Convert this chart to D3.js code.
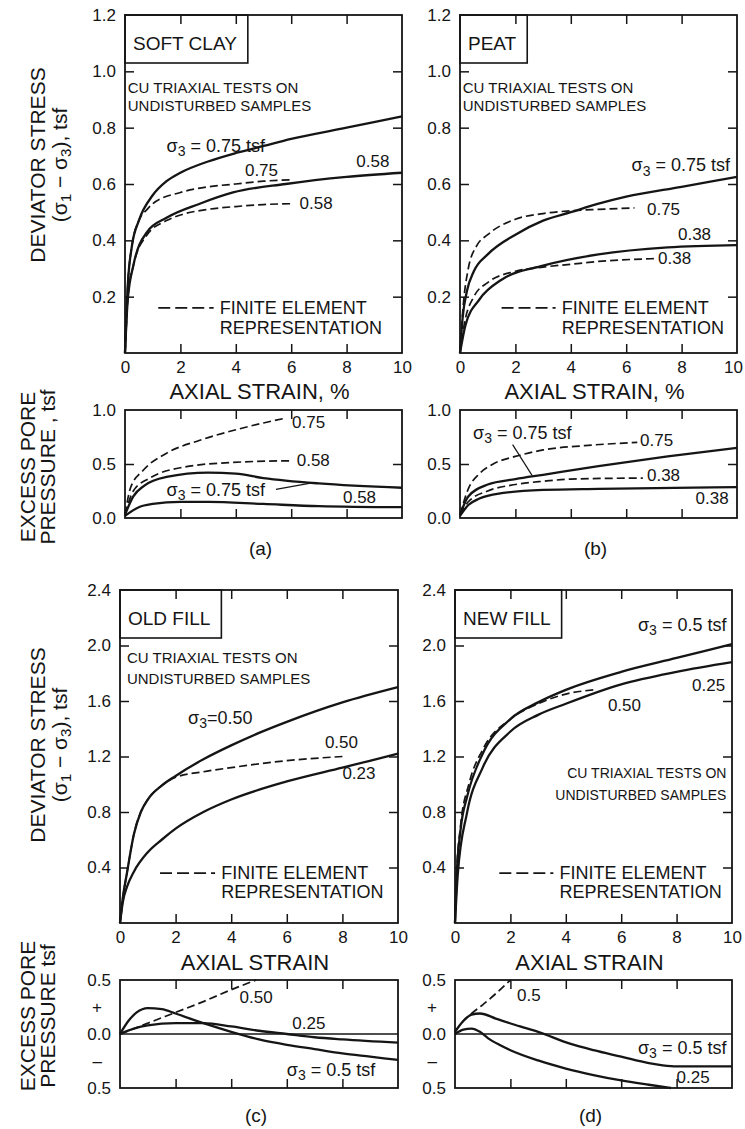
<!DOCTYPE html>
<html>
<head>
<meta charset="utf-8">
<script src="https://cdn.jsdelivr.net/npm/d3@7"></script>
<style>
  body { margin: 0; background: #fff; }
  svg text { font-family: "Liberation Sans", Arial, Helvetica, sans-serif; fill: #151515; }
</style>
</head>
<body>
<svg id="fig" width="745" height="1129"></svg>
<script>
// ---------- data: [axial strain %, value tsf] ----------
const strainDomain = [0, 10];
const strainTicks = [0, 2, 4, 6, 8, 10];
const innerStrainTicks = [2, 4, 6, 8];
const topStressTicks = [0.2, 0.4, 0.6, 0.8, 1.0, 1.2];
const bottomStressTicks = [0.4, 0.8, 1.2, 1.6, 2.0, 2.4];
const topPoreTicks = [0, 0.5, 1.0];
const bottomPoreTicks = [0.5, 0.25, 0, -0.25, -0.5];
const bottomPoreTickText = ["0.5", "+", "0.0", "\u2013", "0.5"];

// (a) soft clay, deviator stress
const clayDevTest075 = [[0,0],[0.1,0.24],[0.25,0.38],[0.5,0.47],[1,0.56],[1.5,0.61],[2,0.64],[3,0.68],[4,0.71],[5,0.735],[6,0.76],[8,0.80],[10,0.84]];
const clayDevTest058 = [[0,0],[0.1,0.19],[0.3,0.31],[0.8,0.43],[1.5,0.48],[2.7,0.53],[3.9,0.57],[5.8,0.60],[8,0.625],[10,0.64]];
const clayDevFE075 = [[0,0],[0.1,0.24],[0.25,0.38],[0.5,0.47],[0.8,0.51],[1,0.53],[2,0.57],[3,0.59],[4,0.60],[5,0.61],[6,0.615]];
const clayDevFE058 = [[0,0],[0.1,0.19],[0.3,0.31],[0.8,0.42],[1.5,0.47],[2,0.49],[3,0.51],[4,0.52],[5,0.527],[6,0.53]];
// (a) soft clay, excess pore pressure
const clayPoreTest075 = [[0,0.03],[0.3,0.2],[0.7,0.3],[1.5,0.38],[3,0.42],[4,0.41],[5,0.37],[7,0.32],[10,0.28]];
const clayPoreTest058 = [[0,0.02],[0.5,0.1],[1,0.13],[2,0.15],[3,0.15],[5,0.13],[7,0.11],[10,0.1]];
const clayPoreFE075 = [[0,0.03],[0.2,0.28],[0.65,0.44],[1.5,0.6],[2.7,0.72],[3.9,0.81],[5,0.88],[5.8,0.925]];
const clayPoreFE058 = [[0,0.03],[0.3,0.25],[0.9,0.37],[2.1,0.47],[3.9,0.515],[6,0.53]];

// (b) peat, deviator stress
const peatDevTest075 = [[0,0],[0.1,0.13],[0.25,0.22],[0.5,0.29],[1,0.35],[2,0.42],[3,0.47],[4,0.50],[5,0.53],[6,0.555],[8,0.59],[10,0.625]];
const peatDevFE075 = [[0,0],[0.1,0.15],[0.3,0.30],[0.6,0.38],[1,0.42],[2,0.475],[3,0.495],[4,0.505],[5,0.51],[6.3,0.515]];
const peatDevTest038 = [[0,0],[0.2,0.1],[0.7,0.19],[1.5,0.26],[3,0.31],[5,0.35],[7.5,0.375],[10,0.383]];
const peatDevFE038 = [[0,0],[0.15,0.1],[0.5,0.2],[1,0.25],[2,0.29],[3,0.305],[4,0.315],[5,0.325],[7,0.335]];
// (b) peat, excess pore pressure
const peatPoreTest075 = [[0,0.03],[0.3,0.2],[1,0.31],[2,0.36],[3,0.40],[5,0.48],[7.5,0.57],[10,0.65]];
const peatPoreFE075 = [[0,0.03],[0.3,0.27],[0.7,0.41],[1.2,0.5],[2,0.57],[3,0.63],[4.5,0.67],[6.4,0.70]];
const peatPoreFE038 = [[0,0.03],[0.3,0.15],[1,0.25],[2,0.31],[3,0.34],[4,0.36],[6.6,0.37]];
const peatPoreTest038 = [[0,0.02],[0.3,0.12],[0.7,0.18],[1.5,0.23],[3,0.26],[5,0.27],[10,0.285]];

// (c) old fill, deviator stress
const oldDevTest050 = [[0,0],[0.1,0.18],[0.25,0.36],[0.5,0.64],[0.75,0.8],[1,0.89],[1.5,0.99],[2,1.06],[3,1.18],[4,1.28],[5,1.37],[6,1.45],[8,1.59],[10,1.70]];
const oldDevFE050 = [[0,0],[0.1,0.18],[0.25,0.36],[0.5,0.64],[0.75,0.8],[1,0.89],[1.5,0.99],[2,1.05],[3,1.09],[4,1.12],[6,1.17],[8,1.20]];
const oldDevTest023 = [[0,0],[0.1,0.15],[0.25,0.26],[0.5,0.37],[1,0.51],[1.5,0.6],[2,0.68],[3,0.8],[4,0.89],[6,1.02],[8,1.12],[10,1.22]];
// (c) old fill, excess pore pressure
const oldPoreTest050 = [[0,0],[0.3,0.12],[0.6,0.2],[1,0.24],[1.5,0.23],[2,0.19],[3,0.1],[4,0.02],[5,-0.05],[6,-0.1],[7,-0.14],[8,-0.18],[9,-0.21],[10,-0.24]];
const oldPoreTest025 = [[0,0],[0.5,0.05],[1,0.08],[2,0.1],[3,0.1],[4,0.07],[5,0.03],[6,0.0],[7,-0.03],[8,-0.05],[10,-0.08]];
const oldPoreFE050 = [[0,0],[1,0.1],[2,0.2],[3,0.3],[4,0.41],[4.9,0.5]];

// (d) new fill, deviator stress
const newDevTest050 = [[0,0],[0.05,0.3],[0.2,0.67],[0.45,0.92],[1,1.22],[2,1.47],[3,1.59],[4,1.68],[6,1.81],[8,1.91],[10,2.01]];
const newDevTest025 = [[0,0],[0.1,0.35],[0.43,0.79],[1,1.12],[2,1.38],[3,1.50],[4,1.58],[6,1.72],[8,1.81],[10,1.88]];
const newDevFE050 = [[0,0],[0.05,0.32],[0.2,0.7],[0.5,1.0],[1,1.25],[2,1.47],[3,1.58],[4,1.65],[5,1.68]];
// (d) new fill, excess pore pressure
const newPoreTest050 = [[0,0.02],[0.3,0.12],[0.6,0.18],[0.9,0.19],[1.5,0.14],[2.35,0.07],[3,0.02],[4.15,-0.09],[5,-0.15],[6,-0.21],[7,-0.27],[7.5,-0.29],[8,-0.30],[10,-0.30]];
const newPoreTest025 = [[0,0],[0.3,0.04],[0.6,0.05],[0.9,0.02],[1.2,-0.04],[1.6,-0.1],[2,-0.15],[3,-0.245],[4,-0.32],[5,-0.38],[6,-0.43],[7,-0.47],[7.8,-0.5]];
const newPoreFE050 = [[0,0.02],[0.3,0.12],[0.6,0.19],[1,0.27],[1.5,0.38],[2,0.5]];

// ---------- drawing ----------
const svg = d3.select("#fig");
const INK = "#151515";
const TICK = 9;
const FS = { tick: 17, label: 17, sigma: 18, note: 15, noteSmall: 14, legend: 18, box: 19, xTitle: 22, yTitle: 21, letter: 19 };

function makePanel(x0, x1, y0, y1, yDomain) {
  const g = svg.append("g");
  const x = d3.scaleLinear().domain(strainDomain).range([x0, x1]);
  const y = d3.scaleLinear().domain(yDomain).range([y1, y0]);
  g.append("rect")
    .attr("x", x0).attr("y", y0).attr("width", x1 - x0).attr("height", y1 - y0)
    .attr("fill", "none").attr("stroke", INK).attr("stroke-width", 1.8);
  return { g, x, y, x0, x1, y0, y1 };
}

function styleAxis(sel, size) {
  sel.select(".domain").remove();
  sel.selectAll("line").attr("stroke", INK).attr("stroke-width", 1.5);
  sel.attr("font-family", null).attr("font-size", size || FS.tick);
  sel.selectAll("text").attr("fill", INK);
}

function innerTicks(p, yVals) {
  p.g.append("g").attr("transform", `translate(0,${p.y0})`)
    .call(d3.axisTop(p.x).tickValues(innerStrainTicks).tickSize(-TICK).tickFormat(""))
    .call(styleAxis);
  p.g.append("g").attr("transform", `translate(0,${p.y1})`)
    .call(d3.axisBottom(p.x).tickValues(innerStrainTicks).tickSize(-TICK).tickFormat(""))
    .call(styleAxis);
  if (yVals) {
    p.g.append("g").attr("transform", `translate(${p.x0},0)`)
      .call(d3.axisLeft(p.y).tickValues(yVals).tickSize(-TICK).tickFormat(""))
      .call(styleAxis);
    p.g.append("g").attr("transform", `translate(${p.x1},0)`)
      .call(d3.axisRight(p.y).tickValues(yVals).tickSize(-TICK).tickFormat(""))
      .call(styleAxis);
  }
}

function yLabels(p, vals, fmt) {
  p.g.append("g").attr("transform", `translate(${p.x0},0)`)
    .call(d3.axisLeft(p.y).tickValues(vals).tickSize(0).tickPadding(9).tickFormat(fmt))
    .call(styleAxis);
}

function xLabels(p) {
  const ax = p.g.append("g").attr("transform", `translate(0,${p.y1})`)
    .call(d3.axisBottom(p.x).tickValues(strainTicks).tickSize(0).tickPadding(8).tickFormat(d3.format("d")))
    .call(styleAxis);
  // keep the "10" inside the page at the right margin
  ax.selectAll("g.tick text").filter(d => d === 10 && p.x1 > 735).attr("dx", -4);
}

function curve(p, data, dashed) {
  const line = d3.line().x(d => p.x(d[0])).y(d => p.y(d[1])).curve(d3.curveMonotoneX);
  p.g.append("path").datum(data)
    .attr("d", line).attr("fill", "none").attr("stroke", INK)
    .attr("stroke-width", dashed ? 1.7 : 2.3)
    .attr("stroke-dasharray", dashed ? "8,4" : null)
    .attr("stroke-linecap", "butt");
}

function text(p, s, v, str, opts = {}) {
  return p.g.append("text")
    .attr("x", p.x(s)).attr("y", p.y(v))
    .attr("dominant-baseline", "central")
    .attr("text-anchor", opts.anchor || "start")
    .attr("font-size", opts.size || FS.label)
    .text(str);
}

// sigma-3 annotation with subscript
function sigmaText(p, s, v, rest, opts = {}) {
  const size = opts.size || FS.sigma;
  const t = p.g.append("text")
    .attr("x", p.x(s)).attr("y", p.y(v))
    .attr("dominant-baseline", "central")
    .attr("text-anchor", opts.anchor || "start")
    .attr("font-size", size);
  t.append("tspan").text("\u03c3");
  t.append("tspan").attr("dy", size * 0.3).attr("font-size", size * 0.78).text("3");
  t.append("tspan").attr("dy", -size * 0.3).text(rest);
  return t;
}

function leader(p, s0, v0, s1, v1) {
  p.g.append("line")
    .attr("x1", p.x(s0)).attr("y1", p.y(v0)).attr("x2", p.x(s1)).attr("y2", p.y(v1))
    .attr("stroke", INK).attr("stroke-width", 1.2);
}

function nameBox(p, str) {
  const t = p.g.append("text")
    .attr("x", p.x0 + 8).attr("y", p.y0 + 28)
    .attr("dominant-baseline", "central")
    .attr("font-size", FS.box).text(str);
  const w = t.node().getComputedTextLength();
  p.g.append("rect")
    .attr("x", p.x0).attr("y", p.y0).attr("width", w + 19).attr("height", 48)
    .attr("fill", "none").attr("stroke", INK).attr("stroke-width", 1.6);
}

function testsNote(p, s, v1, v2, anchor, size) {
  text(p, s, v1, "CU TRIAXIAL TESTS ON", { size: size || FS.note, anchor });
  text(p, s, v2, "UNDISTURBED SAMPLES", { size: size || FS.note, anchor });
}

function legend(p, s0, s1, v1, v2) {
  p.g.append("line")
    .attr("x1", p.x(s0)).attr("x2", p.x(s1)).attr("y1", p.y(v1)).attr("y2", p.y(v1))
    .attr("stroke", INK).attr("stroke-width", 1.7).attr("stroke-dasharray", "12,5");
  text(p, s1 + 0.22, v1, "FINITE ELEMENT", { size: FS.legend });
  text(p, s1 + 0.22, v2, "REPRESENTATION", { size: FS.legend });
}

function xTitle(p, str, yPix) {
  svg.append("text")
    .attr("x", (p.x0 + p.x1) / 2 - 4).attr("y", yPix)
    .attr("text-anchor", "middle").attr("dominant-baseline", "central")
    .attr("font-size", FS.xTitle).text(str);
}

function letter(p, str, yPix) {
  svg.append("text")
    .attr("x", (p.x0 + p.x1) / 2 - 3).attr("y", yPix)
    .attr("text-anchor", "middle").attr("dominant-baseline", "central")
    .attr("font-size", FS.letter).text(str);
}

function yTitle(xPix, yPix, build) {
  const t = svg.append("text")
    .attr("transform", `translate(${xPix},${yPix}) rotate(-90)`)
    .attr("text-anchor", "middle").attr("dominant-baseline", "central")
    .attr("font-size", FS.yTitle);
  build(t);
}

function sigmaPairTitle(t) {
  const sub = FS.yTitle * 0.72, d = FS.yTitle * 0.3;
  t.append("tspan").text("(\u03c3");
  t.append("tspan").attr("dy", d).attr("font-size", sub).text("1");
  t.append("tspan").attr("dy", -d).text(" \u2212 \u03c3");
  t.append("tspan").attr("dy", d).attr("font-size", sub).text("3");
  t.append("tspan").attr("dy", -d).text("), tsf");
}

// ---- (a) soft clay ----
const aDev = makePanel(125, 402, 15, 353, [0, 1.2]);
innerTicks(aDev, [0.2, 0.4, 0.6, 0.8, 1.0]);
yLabels(aDev, topStressTicks, d3.format(".1f"));
xLabels(aDev);
curve(aDev, clayDevTest075);
curve(aDev, clayDevTest058);
curve(aDev, clayDevFE075, true);
curve(aDev, clayDevFE058, true);
nameBox(aDev, "SOFT CLAY");
testsNote(aDev, 0.1, 0.944, 0.879);
sigmaText(aDev, 1.5, 0.735, " = 0.75 tsf");
text(aDev, 4.33, 0.648, "0.75");
text(aDev, 8.35, 0.68, "0.58");
text(aDev, 6.3, 0.53, "0.58");
legend(aDev, 1.2, 3.2, 0.16, 0.089);
xTitle(aDev, "AXIAL STRAIN, %", 391);

const aPore = makePanel(125, 402, 410, 518, [0, 1]);
innerTicks(aPore, [0.5]);
yLabels(aPore, topPoreTicks, d3.format(".1f"));
curve(aPore, clayPoreTest075);
curve(aPore, clayPoreTest058);
curve(aPore, clayPoreFE075, true);
curve(aPore, clayPoreFE058, true);
text(aPore, 6.03, 0.88, "0.75");
text(aPore, 6.2, 0.537, "0.58");
sigmaText(aPore, 1.5, 0.26, " = 0.75 tsf");
leader(aPore, 5.45, 0.265, 6.8, 0.328);
text(aPore, 7.87, 0.19, "0.58");
letter(aPore, "(a)", 548);

// ---- (b) peat ----
const bDev = makePanel(460, 737, 15, 353, [0, 1.2]);
innerTicks(bDev, [0.2, 0.4, 0.6, 0.8, 1.0]);
yLabels(bDev, topStressTicks, d3.format(".1f"));
xLabels(bDev);
curve(bDev, peatDevTest075);
curve(bDev, peatDevTest038);
curve(bDev, peatDevFE075, true);
curve(bDev, peatDevFE038, true);
nameBox(bDev, "PEAT");
testsNote(bDev, 0.1, 0.944, 0.879);
sigmaText(bDev, 9.75, 0.667, " = 0.75 tsf", { anchor: "end" });
text(bDev, 6.75, 0.508, "0.75");
text(bDev, 7.87, 0.42, "0.38");
text(bDev, 7.15, 0.337, "0.38");
legend(bDev, 1.5, 3.45, 0.16, 0.089);
xTitle(bDev, "AXIAL STRAIN, %", 391);

const bPore = makePanel(460, 737, 410, 518, [0, 1]);
innerTicks(bPore, [0.5]);
yLabels(bPore, topPoreTicks, d3.format(".1f"));
curve(bPore, peatPoreTest075);
curve(bPore, peatPoreTest038);
curve(bPore, peatPoreFE075, true);
curve(bPore, peatPoreFE038, true);
sigmaText(bPore, 0.47, 0.787, " = 0.75 tsf");
leader(bPore, 1.9, 0.68, 2.6, 0.395);
text(bPore, 6.5, 0.722, "0.75");
text(bPore, 6.75, 0.398, "0.38");
text(bPore, 9.7, 0.18, "0.38", { anchor: "end" });
letter(bPore, "(b)", 548);

// ---- (c) old fill ----
const cDev = makePanel(120, 398, 590, 923, [0, 2.4]);
innerTicks(cDev, [0.4, 0.8, 1.2, 1.6, 2.0]);
yLabels(cDev, bottomStressTicks, d3.format(".1f"));
xLabels(cDev);
curve(cDev, oldDevTest050);
curve(cDev, oldDevTest023);
curve(cDev, oldDevFE050, true);
nameBox(cDev, "OLD FILL");
testsNote(cDev, 0.25, 1.91, 1.76);
sigmaText(cDev, 2.45, 1.48, "=0.50");
text(cDev, 7.37, 1.30, "0.50");
text(cDev, 8.0, 1.08, "0.23");
legend(cDev, 1.44, 3.42, 0.36, 0.223);
xTitle(cDev, "AXIAL STRAIN", 962);

const cPore = makePanel(120, 398, 980, 1088, [-0.5, 0.5]);
innerTicks(cPore, null);
cPore.g.append("line")
  .attr("x1", cPore.x0).attr("x2", cPore.x1).attr("y1", cPore.y(0)).attr("y2", cPore.y(0))
  .attr("stroke", INK).attr("stroke-width", 1.5);
yLabels(cPore, bottomPoreTicks, (d, i) => bottomPoreTickText[i]);
curve(cPore, oldPoreTest050);
curve(cPore, oldPoreTest025);
curve(cPore, oldPoreFE050, true);
text(cPore, 4.3, 0.34, "0.50");
text(cPore, 6.2, 0.10, "0.25");
sigmaText(cPore, 6.0, -0.33, " = 0.5 tsf");
letter(cPore, "(c)", 1115);

// ---- (d) new fill ----
const dDev = makePanel(455, 732, 590, 923, [0, 2.4]);
innerTicks(dDev, [0.4, 0.8, 1.2, 1.6, 2.0]);
yLabels(dDev, bottomStressTicks, d3.format(".1f"));
xLabels(dDev);
curve(dDev, newDevTest050);
curve(dDev, newDevTest025);
curve(dDev, newDevFE050, true);
nameBox(dDev, "NEW FILL");
sigmaText(dDev, 9.8, 2.15, " = 0.5 tsf", { anchor: "end" });
text(dDev, 8.56, 1.715, "0.25");
text(dDev, 5.52, 1.57, "0.50");
testsNote(dDev, 9.8, 1.08, 0.92, "end", FS.noteSmall);
legend(dDev, 1.6, 3.55, 0.36, 0.223);
xTitle(dDev, "AXIAL STRAIN", 962);

const dPore = makePanel(455, 732, 980, 1088, [-0.5, 0.5]);
innerTicks(dPore, null);
dPore.g.append("line")
  .attr("x1", dPore.x0).attr("x2", dPore.x1).attr("y1", dPore.y(0)).attr("y2", dPore.y(0))
  .attr("stroke", INK).attr("stroke-width", 1.5);
yLabels(dPore, bottomPoreTicks, (d, i) => bottomPoreTickText[i]);
curve(dPore, newPoreTest050);
curve(dPore, newPoreTest025);
curve(dPore, newPoreFE050, true);
text(dPore, 2.24, 0.36, "0.5");
sigmaText(dPore, 9.8, -0.13, " = 0.5 tsf", { anchor: "end" });
text(dPore, 8.0, -0.40, "0.25");
letter(dPore, "(d)", 1115);

// "+" and "–" sit slightly left of the numeric pore labels
svg.selectAll("g.tick text").filter(function () {
  const s = d3.select(this).text();
  return s === "+" || s === "\u2013";
}).attr("dx", "-9");

// ---- y-axis titles ----
yTitle(37, 165, t => t.text("DEVIATOR STRESS"));
yTitle(59, 165, sigmaPairTitle);
yTitle(27, 467, t => t.text("EXCESS PORE"));
yTitle(47, 467, t => t.text("PRESSURE , tsf"));
yTitle(37, 745, t => t.text("DEVIATOR STRESS"));
yTitle(59, 745, sigmaPairTitle);
yTitle(27, 1016, t => t.text("EXCESS PORE"));
yTitle(47, 1016, t => t.text("PRESSURE  tsf"));
</script>
</body>
</html>
